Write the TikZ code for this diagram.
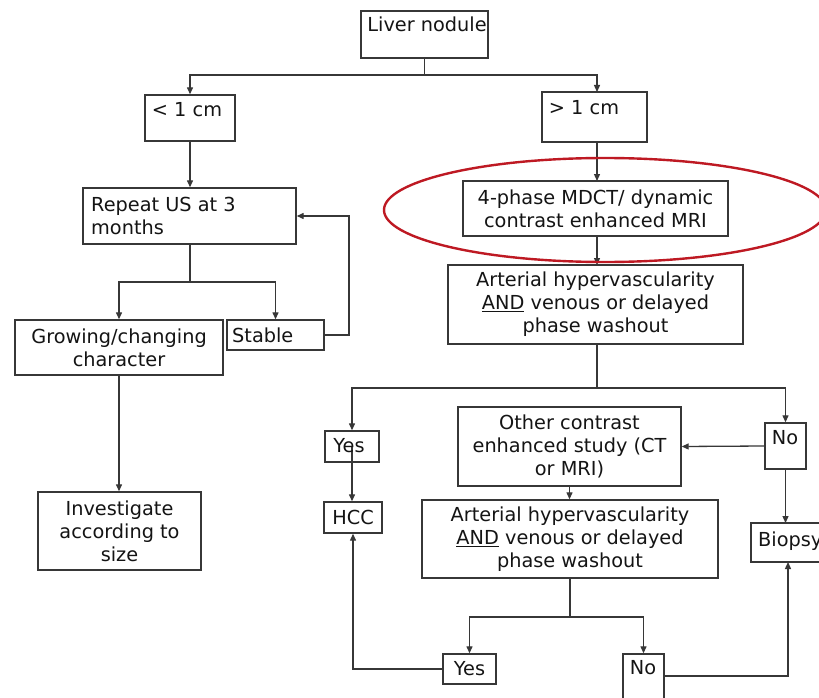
\documentclass[tikz,border=0pt]{standalone}
\usepackage{fontspec}
\setmainfont{DejaVu Sans}
\usetikzlibrary{arrows.meta}
\definecolor{ln}{RGB}{55,55,55}
\definecolor{tx}{RGB}{20,20,20}
\definecolor{redmark}{RGB}{190,25,35}
\tikzset{
  box/.style={draw=ln, line width=1.4pt, inner sep=0pt, fill=white, text=tx, align=center, font=\fontsize{19.3}{23}\selectfont},
  lbl/.style={inner sep=0pt, text=tx, font=\fontsize{19.3}{23}\selectfont},
  conn/.style={draw=ln, line width=1.3pt},
  arr/.style={conn, -{Triangle[length=7pt,width=6pt]}}
}
\begin{document}
\begin{tikzpicture}[x=1pt,y=-1pt]
\useasboundingbox (0,0) rectangle (819,698);
\clip (0,0) rectangle (819,698);
\fill[white] (0,0) rectangle (819,698);
% boxes
\node[box, minimum width=127pt, minimum height=47pt] (liver) at (424.5,34.5) {};
\node[lbl] (livert) at (427,24) {Liver nodule};
\node[box, minimum width=90pt, minimum height=46pt] (lt1) at (190,118) {};
\node[lbl] (lt1t) at (187,110) {< 1 cm};
\node[box, minimum width=105pt, minimum height=50pt] (gt1) at (594.5,117) {};
\node[lbl] (gt1t) at (584,108) {> 1 cm};
\node[box, minimum width=213pt, minimum height=56pt] (rep) at (189.5,216) {};
\node[lbl, anchor=west, align=left] (rept) at (91,216) {Repeat US at 3\\months};
\node[box, minimum width=208pt, minimum height=55pt] (grow) at (119,347.5) {Growing/changing\\character};
\node[box, minimum width=97pt, minimum height=30pt] (stable) at (275.5,335) {};
\node[lbl, anchor=west] (stablet) at (232,335) {Stable};
\node[box, minimum width=163pt, minimum height=78pt] (inv) at (119.5,531) {Investigate\\according to\\size};
\node[box, minimum width=265pt, minimum height=55pt] (mdct) at (595.5,208.5) {4-phase MDCT/ dynamic\\contrast enhanced MRI};
\node[box, minimum width=295pt, minimum height=79pt] (art1) at (595.5,304.5) {Arterial hypervascularity\\\underline{AND} venous or delayed\\phase washout};
\node[box, minimum width=54pt, minimum height=31pt] (yes1) at (352,446.5) {};
\node[box, minimum width=58pt, minimum height=31pt] (hcc) at (353,517.5) {HCC};
\node[box, minimum width=41pt, minimum height=46pt] (no1) at (785.5,446) {};
\node[lbl] (no1t) at (785,438) {No};
\node[box, minimum width=223pt, minimum height=79pt] (other) at (569.5,446.5) {Other contrast\\enhanced study (CT\\or MRI)};
\node[box, minimum width=296pt, minimum height=78pt] (art2) at (570,539) {Arterial hypervascularity\\\underline{AND} venous or delayed\\phase washout};
\node[box, minimum width=84pt, minimum height=39pt] (biop) at (793,542.5) {};
\node[lbl, anchor=west] (biopt) at (758,541) {Biopsy};
\node[box, minimum width=53pt, minimum height=30pt] (yes2) at (469.5,669) {Yes};
\node[box, minimum width=41pt, minimum height=58pt] (no2) at (643.5,683) {};
\node[lbl] (no2t) at (643,668) {No};
% connectors
\coordinate (split1) at (424.5,75);
\draw[conn] (liver.south) -- (split1);
\draw[arr] (split1) -| (lt1.north);
\draw[arr] (split1) -| (597,92);
\draw[arr] (lt1.south) -- (lt1.south |- rep.north);
\coordinate (split2) at (190,282);
\draw[conn] (190,244) -- (split2);
\draw[arr] (split2) -| (grow.north);
\draw[arr] (split2) -| (stable.north);
\coordinate (loop) at (349,216);
\draw[arr] (stable.east) -| (loop) -- (rep.east);
\draw[arr] (grow.south) -- (grow.south |- inv.north);
\draw[arr] (597,142) -- (597,181);
\draw[arr] (597,236) -- (597,265);
\coordinate (split3) at (597,388);
\draw[conn] (597,344) -- (split3);
\draw[arr] (split3) -| (yes1.north);
\draw[arr] (split3) -| (no1.north);
\draw[arr] (yes1.center) -- (yes1.center |- hcc.north);
\node[lbl] (yes1t) at (349,446) {Yes};
\draw[arr] (no1.west) -- (other.east);
\coordinate (bx) at (785.5,523);
\draw[arr] (no1.south) -- (bx);
\draw[arr] (other.south) -- (other.south |- art2.north);
\coordinate (split4) at (570,617);
\draw[conn] (art2.south) -- (split4);
\draw[arr] (split4) -| (yes2.north);
\draw[arr] (split4) -| (no2.north);
\draw[arr] (yes2.west) -| (hcc.south);
\coordinate (no2e) at (664,676);
\draw[arr] (no2e) -| (788,562);
% red ellipse
\draw[redmark, line width=2.4pt] (605,210) ellipse [x radius=221, y radius=52];
\end{tikzpicture}
\end{document}
